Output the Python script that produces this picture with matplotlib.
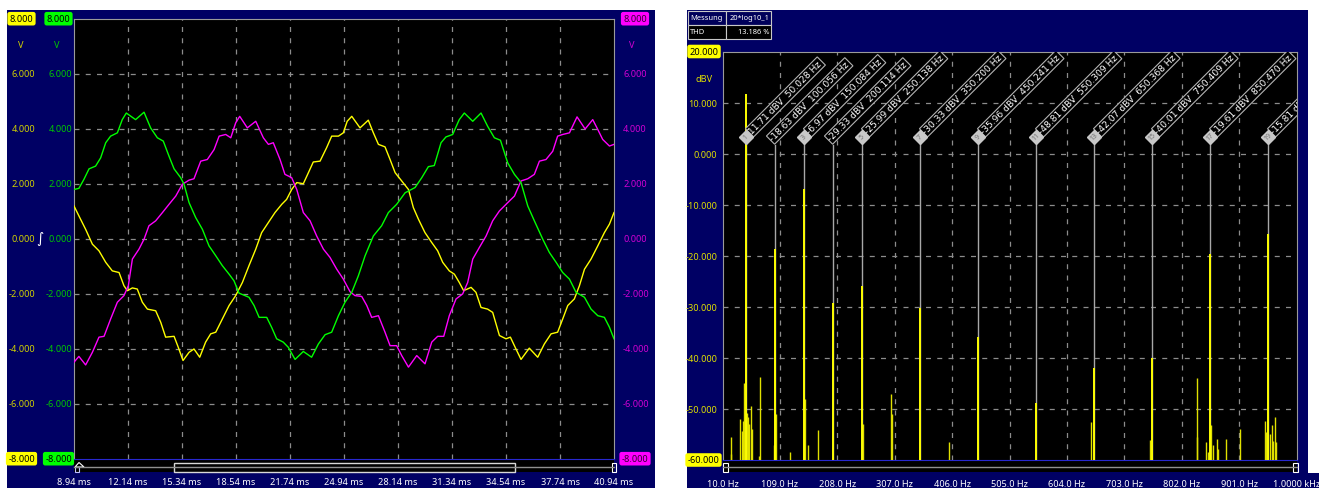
import matplotlib
matplotlib.use('Agg')
import matplotlib.pyplot as plt
from matplotlib.patches import Rectangle, Polygon
from matplotlib.transforms import blended_transform_factory as blend, offset_copy

plt.rcParams['font.family'] = ['Noto Sans', 'DejaVu Sans']
FS = 6.6

W, H = 1319, 489
NAVY = '#000064'

# ---------------- scope traces (ms, V) ----------------
t_green = [8.94, 9.23, 9.53, 9.83, 10.22, 10.52, 10.82, 11.11, 11.51, 11.80, 12.04, 12.59, 13.09, 13.48,
           13.88, 14.23, 14.57, 14.87, 15.26, 15.46, 15.76, 16.15, 16.55, 16.94, 17.34, 17.73, 18.13,
           18.42, 18.72, 19.31, 19.61, 19.91, 20.36, 20.65, 20.95, 21.34, 21.64, 22.04, 22.53, 23.02,
           23.42, 23.82, 24.21, 24.61, 25.00, 25.40, 25.79, 26.19, 26.68, 27.17, 27.57, 28.06, 28.56,
           29.15, 29.55, 29.94, 30.29, 30.69, 30.98, 31.38, 31.77, 32.07, 32.57, 33.06, 33.45, 33.85,
           34.21, 34.64, 35.04, 35.43, 35.83, 36.22, 36.72, 37.11, 37.51, 37.90, 38.30, 38.69, 39.19,
           39.58, 39.98, 40.37, 40.67, 40.94]
v_green = [1.79, 1.83, 2.16, 2.54, 2.64, 2.94, 3.49, 3.73, 3.85, 4.33, 4.57, 4.33, 4.60, 4.03,
           3.67, 3.55, 3.00, 2.54, 2.22, 1.98, 1.31, 0.77, 0.34, -0.26, -0.62, -0.98, -1.29,
           -1.53, -1.98, -2.13, -2.43, -2.86, -2.86, -3.22, -3.64, -3.76, -3.95, -4.39, -4.10, -4.31,
           -3.83, -3.49, -3.40, -2.80, -2.31, -1.95, -1.35, -0.62, 0.10, 0.47, 0.95, 1.25, 1.67,
           1.86, 2.22, 2.62, 2.66, 3.49, 3.70, 3.79, 4.33, 4.57, 4.27, 4.57, 4.09, 3.67,
           3.58, 2.76, 2.34, 2.04, 1.19, 0.65, -0.02, -0.50, -0.86, -1.23, -1.47, -1.95, -2.13,
           -2.56, -2.80, -2.86, -3.22, -3.64]

t_yellow = [8.94, 9.23, 9.63, 10.03, 10.42, 10.82, 11.21, 11.61, 11.90, 12.10, 12.40, 12.69, 12.99,
            13.29, 13.78, 14.08, 14.37, 14.87, 15.12, 15.40, 15.76, 16.05, 16.39, 16.74, 17.04, 17.34,
            17.73, 18.13, 18.52, 18.92, 19.31, 19.71, 20.06, 20.46, 20.85, 21.25, 21.54, 21.84, 22.14,
            22.53, 22.83, 23.12, 23.52, 23.91, 24.21, 24.61, 24.90, 25.13, 25.40, 25.89, 26.38, 26.68,
            26.98, 27.37, 27.67, 27.97, 28.36, 28.76, 29.05, 29.35, 29.74, 30.14, 30.49, 30.79, 31.18,
            31.48, 31.77, 32.03, 32.47, 32.76, 33.06, 33.45, 33.75, 34.15, 34.54, 34.80, 35.13, 35.43,
            35.92, 36.42, 36.81, 37.21, 37.60, 37.90, 38.20, 38.59, 38.89, 39.19, 39.58, 39.98, 40.37,
            40.67, 40.94]
v_yellow = [1.19, 0.83, 0.34, -0.20, -0.44, -0.86, -1.17, -1.23, -1.71, -1.89, -1.79, -1.83, -2.31,
            -2.56, -2.62, -3.04, -3.58, -3.55, -3.95, -4.43, -4.13, -4.01, -4.31, -3.76, -3.46, -3.40,
            -2.92, -2.43, -2.07, -1.59, -0.98, -0.38, 0.22, 0.59, 0.95, 1.25, 1.43, 1.79, 2.04,
            2.00, 2.40, 2.79, 2.82, 3.31, 3.73, 3.73, 3.85, 4.27, 4.45, 4.03, 4.31, 3.85,
            3.43, 3.34, 2.88, 2.40, 2.10, 1.79, 1.13, 0.71, 0.22, -0.14, -0.44, -0.86, -1.17,
            -1.29, -1.59, -1.89, -1.77, -1.95, -2.50, -2.56, -2.68, -3.52, -3.64, -3.58, -4.01, -4.39,
            -3.98, -4.31, -3.83, -3.46, -3.40, -2.92, -2.43, -2.19, -1.71, -1.11, -0.74, -0.26, 0.22,
            0.53, 0.95]

t_magenta = [8.94, 9.23, 9.63, 10.03, 10.42, 10.72, 11.11, 11.51, 11.90, 12.16, 12.40, 12.79, 13.09,
             13.38, 13.78, 14.18, 14.57, 14.97, 15.36, 15.76, 16.05, 16.45, 16.84, 17.24, 17.54, 17.93,
             18.23, 18.52, 18.76, 19.21, 19.71, 20.16, 20.46, 20.75, 21.15, 21.44, 21.84, 22.14, 22.53,
             22.93, 23.32, 23.72, 24.11, 24.51, 24.90, 25.30, 25.59, 25.99, 26.29, 26.58, 26.98, 27.37,
             27.67, 28.06, 28.36, 28.76, 29.25, 29.74, 30.14, 30.49, 30.85, 31.18, 31.58, 31.97, 32.27,
             32.57, 32.96, 33.36, 33.75, 34.15, 34.64, 35.04, 35.43, 35.83, 36.22, 36.52, 36.91, 37.31,
             37.60, 37.90, 38.30, 38.75, 39.23, 39.68, 39.98, 40.27, 40.67, 40.94]
v_magenta = [-4.49, -4.28, -4.59, -4.13, -3.58, -3.55, -2.92, -2.31, -2.07, -1.71, -0.74, -0.38, -0.02,
             0.47, 0.65, 0.95, 1.25, 1.55, 1.98, 2.13, 2.18, 2.82, 2.88, 3.24, 3.73, 3.79,
             3.67, 4.21, 4.45, 4.03, 4.27, 3.67, 3.43, 3.49, 2.88, 2.34, 2.22, 1.79, 0.95,
             0.65, 0.10, -0.38, -0.68, -1.11, -1.47, -1.93, -2.07, -2.10, -2.43, -2.86, -2.80, -3.40,
             -3.89, -3.89, -4.25, -4.67, -4.25, -4.55, -3.76, -3.55, -3.55, -2.80, -2.19, -2.01, -1.59,
             -0.74, -0.32, 0.10, 0.65, 1.01, 1.31, 1.55, 2.10, 2.18, 2.34, 2.82, 2.88, 3.18,
             3.73, 3.79, 3.85, 4.43, 3.99, 4.33, 3.97, 3.61, 3.37, 3.43]

time_ticks = [8.94, 12.14, 15.34, 18.54, 21.74, 24.94, 28.14, 31.34, 34.54, 37.74, 40.94]
volt_ticks = [-6, -4, -2, 0, 2, 4, 6]

# ---------------- spectrum (Hz, dBV) ----------------
marker_num = [1, 2, 3, 4, 5, 7, 9, 11, 13, 15, 17, 19]
marker_freq = [50.028, 100.056, 150.084, 200.114, 250.138, 350.200, 450.241, 550.309, 650.368,
               750.409, 850.470, 950.530]
marker_db = [11.71, -18.63, -6.97, -29.33, -25.99, -30.33, -35.96, -48.81, -42.07, -40.01, -19.61, -15.81]

noise_freq = [24, 25, 40, 43, 44.6, 47, 51.5, 54.3, 56, 58.4, 61, 73, 74.5, 98.6, 102, 126, 152, 158,
              175, 252, 300, 303, 401, 646, 748, 828, 829, 843, 846.5, 851.6, 856, 862, 865, 879, 903,
              945, 948, 954, 957, 959.5, 962.5, 964]
noise_db = [-55.5, -58.8, -51.9, -54.4, -52.3, -45, -50.8, -51.5, -52.9, -49.5, -54.0, -59.3, -43.8,
            -57.1, -51, -58.5, -48, -57.1, -54.1, -52.9, -47, -51, -56.4, -52.5, -56, -55.5, -44, -56.4,
            -58.4, -53.2, -57.1, -55.8, -57.8, -55.9, -54.0, -52.3, -54.6, -54.9, -53.2, -56.2, -51.6,
            -56.4]

freq_ticks = [10, 109, 208, 307, 406, 505, 604, 703, 802, 901, 1000]
freq_labels = ['10.0 Hz', '109.0 Hz', '208.0 Hz', '307.0 Hz', '406.0 Hz', '505.0 Hz', '604.0 Hz',
               '703.0 Hz', '802.0 Hz', '901.0 Hz', '1.0000 kHz']
db_ticks = [-50, -40, -30, -20, -10, 0, 10]


def box(x0, y0, x1, y1):
    return [x0 / W, 1 - y1 / H, (x1 - x0) / W, (y1 - y0) / H]


fig = plt.figure(figsize=(W / 100, H / 100), dpi=100, facecolor='white')
bg = fig.add_axes([0, 0, 1, 1])
bg.set_xlim(0, W)
bg.set_ylim(H, 0)
bg.axis('off')

bg.add_patch(Rectangle((7, 11), 648, 478, fc=NAVY, ec='none'))
bg.add_patch(Rectangle((687, 11), 621, 478, fc=NAVY, ec='none'))
bg.add_patch(Rectangle((1300, 474), 19, 15, fc=NAVY, ec='none'))

grid_kw = dict(color='#8c8c8c', lw=0.9, linestyle=(0, (4, 5)))

# ================= oscilloscope =================
ax1 = fig.add_axes(box(74, 19.7, 614, 459.7), facecolor='black')
ax1.set_xlim(8.94, 40.94)
ax1.set_ylim(-8, 8)
for tx in time_ticks[1:-1]:
    ax1.axvline(tx, **grid_kw, zorder=1)
for vy in volt_ticks:
    ax1.axhline(vy, **grid_kw, zorder=1)
ax1.plot(t_yellow, v_yellow, color='#ffff00', lw=1.0, zorder=3)
ax1.plot(t_magenta, v_magenta, color='#ff00ff', lw=1.0, zorder=4)
ax1.plot(t_green, v_green, color='#00ff00', lw=1.0, zorder=5)

ax1.set_yticks([])
ax1.set_xticks(time_ticks)
ax1.set_xticklabels([f'{t:.2f} ms' for t in time_ticks])
ax1.tick_params(axis='x', length=0, pad=13.5, labelcolor='white', labelsize=FS)
for side in ['top', 'left', 'right']:
    ax1.spines[side].set_color('#9a9a9a')
ax1.spines['bottom'].set_color('#2828d0')

tv = blend(bg.transData, ax1.transData)
for vy in volt_ticks:
    bg.text(35, vy, f'{vy:.3f}', transform=tv, ha='right', va='center', fontsize=FS, color='#d2d200')
    bg.text(72, vy, f'{vy:.3f}', transform=tv, ha='right', va='center', fontsize=FS, color='#00c800')
    bg.text(623, vy, f'{vy:.3f}', transform=tv, ha='left', va='center', fontsize=FS, color='#d200d2')
for lim in (8, -8):
    lab = f'{lim:.3f}'
    bg.text(21.5, lim, lab, transform=tv, ha='center', va='center', fontsize=FS, color='black',
            bbox=dict(boxstyle='round,pad=0.25', fc='#ffff00', ec='none'))
    bg.text(58.5, lim, lab, transform=tv, ha='center', va='center', fontsize=FS, color='black',
            bbox=dict(boxstyle='round,pad=0.25', fc='#00ff00', ec='none'))
    bg.text(635, lim, lab, transform=tv, ha='center', va='center', fontsize=FS, color='#300030',
            bbox=dict(boxstyle='round,pad=0.25', fc='#ff00ff', ec='none'))
bg.text(21, 46, 'V', ha='center', va='center', fontsize=FS, color='#d2d200')
bg.text(57, 46, 'V', ha='center', va='center', fontsize=FS, color='#00c800')
bg.text(632, 46, 'V', ha='center', va='center', fontsize=FS, color='#d200d2')
bg.text(40, 0, '∫', transform=tv, ha='center', va='center', fontsize=10, color='white')

# scroll bar under the scope
bg.add_patch(Rectangle((74, 461), 540, 12, fc='black', ec='none'))
bg.plot([74, 614], [468, 468], color='#909090', lw=1)
bg.add_patch(Rectangle((174, 463.5), 341, 9.5, fc='none', ec='#d8d8d8', lw=1))
bg.add_patch(Polygon([(75, 468), (79, 463.5), (84, 468)], closed=True, fc='none', ec='white', lw=0.8))
bg.add_patch(Rectangle((75, 468), 4, 5, fc='none', ec='#c0c0ff', lw=0.8))
bg.add_patch(Rectangle((612, 463.5), 4, 9, fc='none', ec='white', lw=0.8))

# ================= spectrum =================
ax2 = fig.add_axes(box(722.6, 52.5, 1296.6, 461), facecolor='black')
ax2.set_xlim(10, 1000)
ax2.set_ylim(-60, 20)
for fx in freq_ticks[1:-1]:
    ax2.axvline(fx, **grid_kw, zorder=1)
for dy in db_ticks:
    ax2.axhline(dy, **grid_kw, zorder=1)

mt = blend(ax2.transData, ax2.transAxes)


def yf(py):
    return (461 - py) / (461 - 52.5)


# marker stems
for n, f in zip(marker_num, marker_freq):
    top = 143 if n % 2 else 146
    ax2.plot([f, f], [0, yf(top)], transform=mt, color='#a8a8a8', lw=1, zorder=2)

ax2.vlines(noise_freq, -60, noise_db, color='#e0e000', lw=1.0, zorder=3)
ax2.vlines(marker_freq, -60, marker_db, color='#ffff00', lw=1.4, zorder=3)

label_kw = dict(rotation=45, rotation_mode='anchor', ha='left', va='center', fontsize=6.6,
                family='DejaVu Sans', color='white', zorder=5, clip_on=True,
                bbox=dict(boxstyle='square,pad=0.14', fc='black', ec='#b4b4b4', lw=0.8))
for n, f, d in zip(marker_num, marker_freq, marker_db):
    txt = f'{d:.2f} dBV  {f:.3f} Hz'
    if n % 2:
        ax2.plot(f, yf(137.5), marker='D', ms=6.8, mfc='#c8c8c8', mec='#c8c8c8', transform=mt,
                 zorder=6, clip_on=False)
        ax2.text(f, yf(137.5), str(n), rotation=45, ha='center', va='center', fontsize=5,
                 color='#707070', transform=mt, zorder=7)
        tr = offset_copy(mt, fig=fig, x=4.6, y=4.6, units='dots')
        ax2.text(f, yf(137.5), txt, transform=tr, **label_kw)
    else:
        tr = offset_copy(mt, fig=fig, x=-3.4, y=5.8, units='dots')
        ax2.text(f, yf(146), txt, transform=tr, **label_kw)

ax2.set_xticks(freq_ticks)
ax2.set_xticklabels(freq_labels)
ax2.set_yticks(db_ticks)
ax2.set_yticklabels([f'{d:.3f}' for d in db_ticks])
ax2.tick_params(axis='x', length=0, pad=13.5, labelcolor='white', labelsize=FS)
ax2.tick_params(axis='y', length=0, pad=4, labelcolor='#e0e000', labelsize=FS)
for side in ['top', 'left', 'right']:
    ax2.spines[side].set_color('#9a9a9a')
ax2.spines['bottom'].set_color('#2828d0')

td = blend(bg.transData, ax2.transData)
bg.text(704, 20, '20.000', transform=td, ha='center', va='center', fontsize=FS, color='black',
        bbox=dict(boxstyle='round,pad=0.25', fc='#ffff00', ec='none'))
bg.text(703.5, -60, '-60.000', transform=td, ha='center', va='center', fontsize=FS, color='black',
        bbox=dict(boxstyle='round,pad=0.25', fc='#ffff00', ec='none'))
bg.text(704, 79, 'dBV', ha='center', va='center', fontsize=FS, color='#e0e000')

# scroll bar under the spectrum
bg.add_patch(Rectangle((723, 461), 574, 12, fc='black', ec='none'))
bg.plot([723, 1297], [468, 468], color='#909090', lw=1)
bg.add_patch(Rectangle((723, 463.5), 4.5, 9, fc='none', ec='white', lw=0.8))
bg.add_patch(Rectangle((1293, 463.5), 4.5, 9, fc='none', ec='white', lw=0.8))

# measurement table
cells = [((688, 12, 38, 13.5), 'Messung', 'left', '#00005a'),
         ((726, 12, 45, 13.5), '20*log10_1', 'right', '#00005a'),
         ((688, 26, 38, 13.5), 'THD', 'left', 'black'),
         ((726, 26, 45, 13.5), '13.186 %', 'right', 'black')]
for (cx, cy, cw, ch), label, align, fc in cells:
    bg.add_patch(Rectangle((cx, cy), cw, ch, fc=fc, ec='#c8c8c8', lw=0.8))
    tx = cx + 2 if align == 'left' else cx + cw - 2
    bg.text(tx, cy + ch / 2, label, ha=align, va='center', fontsize=5.4, color='white')

fig.savefig('out.png', dpi=100, facecolor='white')
